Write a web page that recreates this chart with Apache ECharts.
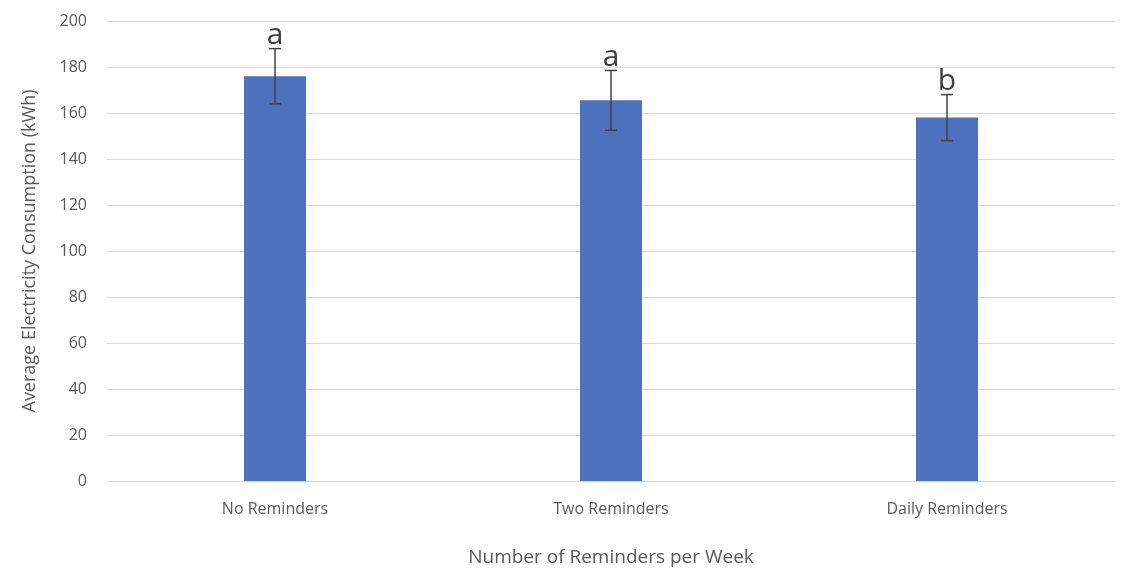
<!DOCTYPE html>
<html>
<head>
<meta charset="utf-8">
<script src="https://cdn.jsdelivr.net/npm/echarts@6/dist/echarts.min.js"></script>
<style>html,body{margin:0;background:#fff}#main{width:1131px;height:576px}</style>
</head>
<body>
<div id="main"></div>
<script>
var categories = ['No Reminders', 'Two Reminders', 'Daily Reminders'];
var means = [176, 165.5, 158];
var errors = [12, 13, 10];
var letters = ['a', 'a', 'b'];

var chart = echarts.init(document.getElementById('main'));
var font = '"Open Sans", sans-serif';

chart.setOption({
  animation: false,
  grid: {left: 107, right: 16, top: 21, bottom: 95},
  xAxis: {
    type: 'category',
    data: categories,
    name: 'Number of Reminders per Week',
    nameLocation: 'middle',
    nameGap: 67,
    nameTextStyle: {fontFamily: font, fontSize: 19, color: '#595959'},
    axisLine: {lineStyle: {color: '#d9d9d9'}},
    axisTick: {show: false},
    axisLabel: {fontFamily: font, fontSize: 16, color: '#595959', margin: 20}
  },
  yAxis: {
    type: 'value',
    min: 0, max: 200, interval: 20,
    name: 'Average Electricity Consumption (kWh)',
    nameLocation: 'middle',
    nameGap: 68,
    nameTextStyle: {fontFamily: font, fontSize: 18, color: '#595959'},
    axisLabel: {fontFamily: font, fontSize: 16, color: '#595959', margin: 20},
    splitLine: {lineStyle: {color: '#d9d9d9'}}
  },
  series: [
    {
      type: 'bar',
      data: means,
      barWidth: 62,
      itemStyle: {color: '#4e71be'}
    },
    {
      type: 'custom',
      data: means.map(function (m, i) { return [i, m - errors[i], m + errors[i]]; }),
      renderItem: function (params, api) {
        var lo = api.coord([api.value(0), api.value(1)]);
        var hi = api.coord([api.value(0), api.value(2)]);
        var x = lo[0], w = 6;
        var st = {stroke: '#404040', lineWidth: 1.5};
        return {
          type: 'group',
          children: [
            {type: 'line', shape: {x1: x, y1: lo[1], x2: x, y2: hi[1]}, style: st},
            {type: 'line', shape: {x1: x - w, y1: lo[1], x2: x + w, y2: lo[1]}, style: st},
            {type: 'line', shape: {x1: x - w, y1: hi[1], x2: x + w, y2: hi[1]}, style: st},
            {type: 'text', x: x, y: hi[1] + 2, style: {
              text: letters[params.dataIndex], fill: '#404040',
              font: '30px ' + font, align: 'center', verticalAlign: 'bottom'
            }}
          ]
        };
      },
      z: 5
    }
  ]
});
</script>
</body>
</html>
